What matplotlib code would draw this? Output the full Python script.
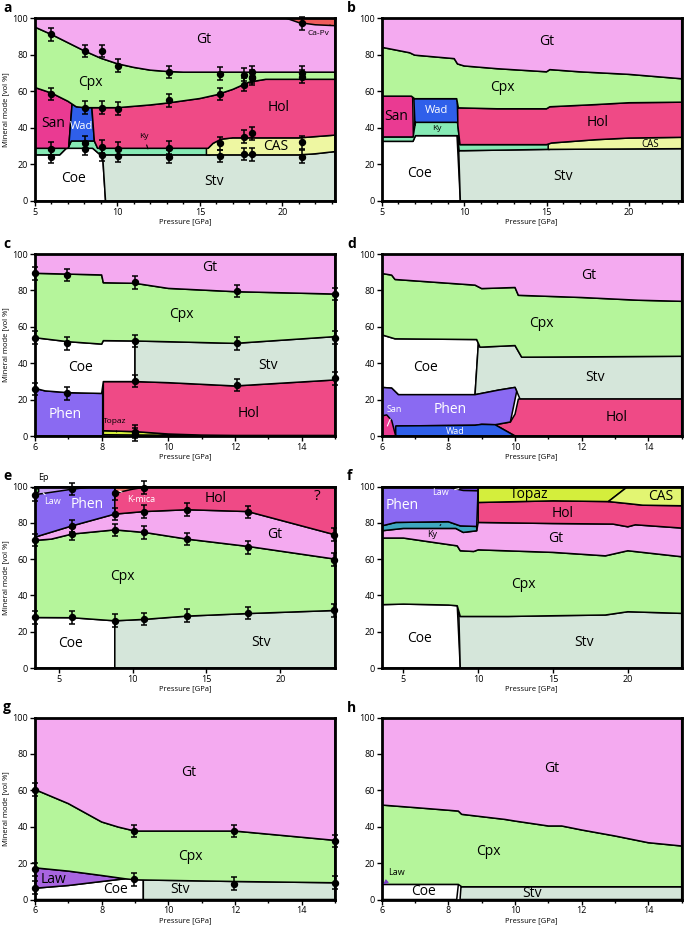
import numpy as np
import matplotlib
matplotlib.use('Agg')
from matplotlib import pyplot as plt
from matplotlib.ticker import MultipleLocator

plt.rcParams['font.family'] = ['Open Sans', 'DejaVu Sans']

# phase colours
GT = '#f4aaf0'
CPX = '#b5f59b'
HOL = '#ef4a86'
SAN = '#ea3a92'
WAD = '#2f5fea'
KY = '#86eab5'
CAS = '#eef7a2'
COE = '#ffffff'
STV = '#d5e6da'
CAPV = '#ef5b5b'
PHEN = '#8a6af2'
TOPAZ = '#d4ee3c'

# ---- panel a : boundaries (pressure GPa, mode vol%)
a_gt_cpx = ([5, 6, 7, 8, 9, 10, 11, 12, 13, 14, 23.2],
            [95, 91, 86.5, 82, 78, 75, 73, 71.5, 70.8, 70.4, 70.4])
a_cpx_hol = ([5, 6, 7, 7.5, 8, 10, 12, 13, 15, 16, 17, 17.5, 18, 19, 23.2],
             [62, 59, 54.5, 51.5, 51, 51, 52.5, 53.5, 56, 58, 61, 63, 65, 66.5, 66.5])
a_ky_top = ([5, 7.0, 7.2, 8.6, 8.8, 15.6], [28.8, 28.8, 32.8, 32.8, 28.8, 28.8])
a_base = ([5, 6.5, 6.9, 8.5, 8.9, 9.2, 21, 22, 23.2],
          [25.2, 25.2, 28.8, 28.8, 25.7, 25.2, 25.2, 25.8, 27])
a_hol_base = ([8.6, 8.8, 15.5, 15.8, 16.3, 17, 21, 23.2],
              [32.8, 28.8, 28.8, 31.5, 33.8, 34.5, 34.5, 36])
a_capv = ([20.2, 21, 22, 23.2], [100, 97.5, 96.3, 95.8])
a_px = [6.0, 8.05, 9.05, 10.05, 13.15, 16.2, 17.65, 18.15, 18.15, 21.2, 21.2, 21.2,
        6.0, 8.05, 9.05, 10.05, 13.15, 16.2, 17.65, 18.15,
        6.0, 6.0, 8.05, 8.05, 9.05, 9.05, 10.05, 10.05, 13.15, 13.15, 16.2, 16.2,
        17.65, 17.65, 18.15, 18.15, 21.2, 21.2]
a_py = [91, 82, 82, 74, 70.5, 69.5, 69, 70.5, 68, 70, 68, 97,
        58.5, 51, 51, 50.5, 55, 58.5, 63.5, 67,
        28.5, 24.3, 31.9, 28.5, 29.7, 25.2, 28.5, 24.8, 29.2, 24.3, 31.6, 24.6,
        35.2, 25.7, 37, 25.5, 32.1, 24.3]

# ---- panel b
b_gt_cpx = ([5, 6.7, 7.0, 9.4, 9.6, 10, 12, 15, 15.2, 17, 20, 23.2],
            [84, 81, 79.7, 77.8, 74.9, 73.8, 72.3, 70.6, 71.8, 70.6, 69.2, 66.8])
b_cpx_low = ([5, 6.8, 7.0, 9.55, 9.65, 12, 15, 15.2, 18, 20, 23.2],
             [57.3, 57.3, 55.9, 55.9, 50.9, 50.4, 50.4, 51.5, 52.7, 53.7, 54])
b_ky_top = ([5, 6.9, 7.05, 9.6, 9.75, 15.0, 15.3, 18, 20, 23.2],
            [35, 35, 43, 43, 30.8, 30.8, 31.7, 33.5, 34.4, 34.8])
b_base = ([5, 6.9, 7.05, 9.6, 9.7, 10, 15, 23.2],
          [32.6, 32.6, 35.7, 35.7, 27.5, 27.5, 28.2, 28.6])

# ---- panel c
c_gt_cpx = ([6, 8.0, 8.05, 9, 10, 12, 15], [89.4, 88.5, 84.2, 83.9, 81.1, 79.3, 78])
c_cpx_low = ([6, 7, 8.0, 8.05, 9, 10, 12, 15], [54, 51.8, 50.5, 52.4, 52.2, 51.8, 50.9, 54.6])
c_mid = ([6, 6.3, 7, 8.0, 8.05, 9, 10, 12, 15], [26.2, 24.8, 23.8, 23.4, 29.9, 29.9, 29.3, 27.5, 30.8])
c_topaz_top = ([8.05, 9, 10, 11, 12, 15], [2.9, 2.4, 1.1, 0.5, 0.3, 0.3])
c_topaz_base = ([8.05, 11], [0.7, 0.3])
c_px = [6, 6, 6, 6.96, 6.96, 6.96, 9, 9, 9, 9, 9, 12.05, 12.05, 12.05, 15, 15, 15]
c_py = [89.4, 54, 25.8, 88.5, 50.9, 23.4, 84.4, 52.2, 30.2, 2.4, 0.9, 79.7, 50.9, 28, 78, 54, 31.7]

# ---- panel d
d_gt_cpx = ([6, 6.3, 6.4, 8.8, 9.0, 10.0, 10.1, 12, 13.7, 15],
            [89.3, 88.4, 86, 82.9, 81, 81.6, 77.3, 76.1, 74.6, 74])
d_cpx_low = ([6, 6.4, 8.85, 8.95, 10.0, 10.2, 15], [55.6, 53.4, 53, 48.8, 49.7, 43.3, 43.8])
d_mid = ([6, 6.3, 6.5, 8.8, 9.5, 10.0, 10.15, 15], [26.7, 26.3, 22.7, 22.7, 25.2, 26.7, 20.3, 20.3])
d_phen_base = ([6, 6.42, 6.45, 8.8, 9.0, 9.4, 9.86], [0, 0, 5.5, 5.9, 6.4, 6.2, 7.7])
d_wad_top = ([6.42, 8.8, 9.0, 9.4, 10.0], [5.5, 5.9, 6.4, 6.2, 0])
d_hol_base = ([9.4, 10.0, 15], [6.2, 0, 0])
d_hol_top = ([9.4, 9.86, 10.0, 10.1, 15], [6.2, 7.7, 12, 20.3, 20.3])
d_san_top = ([6, 6.15, 6.3, 6.42], [11, 11.6, 8.5, 0])

# ---- panel e
e_cpx_low = ([3.4, 5.9, 8.8, 10.8, 13.7, 17.8, 23.7], [27.8, 27.7, 26, 26.8, 28.6, 30, 31.7])
e_gt_low = ([3.4, 4.5, 5.9, 8.8, 10.8, 13.7, 17.8, 23.7], [70.3, 71, 73.8, 76.1, 74.7, 71, 67, 60])
e_gt_top = ([3.4, 5.9, 8.8, 10.8, 13.7, 17.8, 23.7], [72.1, 78.3, 84.8, 86.2, 87.2, 86.2, 73.4])
e_law_low = ([3.4, 5.9, 7.5], [95.5, 98.5, 100])
e_ep_low = ([3.4, 3.65], [96, 97])
e_kmica_low = ([8.8, 10.0, 10.8], [96.3, 98.5, 99.6])
e_px = [3.4, 3.4, 3.4, 5.9, 5.9, 5.9, 5.9, 8.8, 8.8, 8.8, 8.8, 10.8, 10.8, 10.8, 10.8,
        13.7, 13.7, 13.7, 17.8, 17.8, 17.8, 23.6, 23.6, 23.6]
e_py = [95.4, 70.6, 27.9, 98.7, 78.3, 73.8, 27.9, 96.3, 84.8, 76.1, 26, 99.4, 86.2, 74.7, 27,
        87.2, 71, 28.8, 85.9, 66.4, 30.3, 73.4, 59.6, 31.7]

# ---- panel f
f_cpx_low = ([3.55, 5, 8, 8.6, 8.8, 12, 15, 18.5, 20, 23.6],
             [34.9, 35.2, 34.7, 34.3, 28.4, 28.4, 28.8, 29.2, 31, 30.1])
f_gt_low = ([3.55, 5, 7, 8.6, 8.8, 9.7, 10, 15, 18.5, 20, 23.6],
            [71.6, 71.6, 69.2, 67.3, 64.6, 64.2, 65.1, 63.7, 61.8, 64.6, 61.3])
f_gt_top = ([3.55, 5, 8.5, 9.0, 9.9, 10.0, 15, 19, 20, 20.5, 23.6],
            [75.6, 76.9, 76.9, 74.7, 75.6, 80.2, 79.6, 79.3, 77.8, 78.9, 77.1])
f_ky_top = ([3.55, 4.5, 8, 8.8, 9.9], [78.3, 80.2, 80.6, 78.3, 78])
f_hol_top = ([10, 15, 18.7, 20, 21, 23.6], [91.2, 92.1, 91.7, 90.6, 89.7, 89.4])
f_law_low = ([8.2, 9, 10], [99.2, 97.8, 97.6])

# ---- panel g
g_gt_low = ([6, 7, 8, 8.5, 9, 12, 15], [60.4, 52.7, 42.6, 39.8, 37.6, 37.6, 32.5])
g_cpx_low = ([6, 7, 8, 8.7, 9, 12, 15], [17.4, 15.6, 13.2, 11.4, 10.8, 9.9, 9.2])
g_law_low = ([6, 7, 8, 8.7, 9.25], [6.2, 7.7, 9.9, 11.4, 10.7])
g_px = [6, 6, 6, 8.97, 8.97, 11.97, 11.97, 15, 15]
g_py = [60.4, 16.5, 6.4, 37.6, 11, 37.6, 8.6, 32.1, 9.2]

# ---- panel h
h_gt_low = ([6, 7, 8.3, 8.4, 9.7, 10, 11, 11.4, 12, 13, 14, 15],
            [51.9, 50.5, 48.6, 46.8, 44, 43.1, 40.4, 40.4, 38.2, 34.9, 31.2, 29.4])
h_cpx_low = ([6, 8.3, 8.4, 15], [8.3, 8.3, 7, 7])


def seg(curve, a, b):
    x = np.asarray(curve[0], float)
    y = np.asarray(curve[1], float)
    xs = np.concatenate([[a], x[(x > a) & (x < b)], [b]])
    return xs, np.interp(xs, x, y)


def band(ax, lo, hi, x0, x1, color, x0t=None, x1t=None):
    if x0t is None:
        x0t = x0
    if x1t is None:
        x1t = x1
    xl, yl = seg(lo, x0, x1)
    xu, yu = seg(hi, x0t, x1t)
    ax.fill(np.concatenate([xl, xu[::-1]]), np.concatenate([yl, yu[::-1]]),
            facecolor=color, edgecolor='black', linewidth=1.1, joinstyle='round', zorder=1)


def flat(xlim, v):
    return ([xlim[0], xlim[1]], [v, v])


def setup(ax, xlim, major, minor, left):
    ax.set_xlim(xlim)
    ax.set_ylim(0, 100)
    ax.xaxis.set_major_locator(MultipleLocator(major))
    if minor:
        ax.xaxis.set_minor_locator(MultipleLocator(minor))
    ax.yaxis.set_major_locator(MultipleLocator(20))
    ax.tick_params(which='major', direction='out', length=3.5, width=1, labelsize=6.5, pad=1.5)
    ax.tick_params(which='minor', direction='out', length=2.5, width=1)
    for s in ax.spines.values():
        s.set_linewidth(2)
        s.set_zorder(4)
    ax.set_xlabel('Pressure [GPa]', fontsize=5.5, labelpad=1)
    if left:
        ax.set_ylabel('Mineral mode [vol %]', fontsize=5.5, labelpad=2)


def pts(ax, x, y):
    ax.errorbar(x, y, yerr=3.5, fmt='o', color='black', ms=4.3, capsize=2.5,
                elinewidth=1.1, capthick=1.1, zorder=5, clip_on=False)


def lab(ax, x, y, s, size=10, color='black'):
    ax.text(x, y, s, fontsize=size, color=color, ha='center', va='center', zorder=6)


def ptr(ax, s, xy, xyt, color='black', size=6, lc=None):
    ax.annotate(s, xy=xy, xytext=xyt, fontsize=size, color=color, ha='center', va='center',
                arrowprops=dict(arrowstyle='-', color=lc or color, lw=0.8, shrinkA=2, shrinkB=0),
                annotation_clip=False, zorder=6)


fig = plt.figure(figsize=(6.85, 9.27), dpi=100)
W, H = 685.0, 927.0
cols = [35.0, 381.7]
rows = [(18, 201), (254, 436), (486.5, 668), (717.5, 899.5)]
axs = []
for t, b in rows:
    for l in cols:
        axs.append(fig.add_axes([l / W, 1 - b / H, 300 / W, (b - t) / H]))
letters = 'abcdefgh'
for i, ax in enumerate(axs):
    r, c = divmod(i, 2)
    fig.text((3 if c == 0 else 347) / W, 1 - (rows[r][0] - 10) / H, letters[i],
             fontsize=10, fontweight='bold', ha='left', va='center')

# ===== a
ax = axs[0]
XA = (5, 23.2)
fl, cl = flat(XA, 0), flat(XA, 100)
band(ax, fl, a_base, 5, 9.28, COE, 5, 9.1)
band(ax, fl, a_base, 9.28, 23.2, STV, 9.1, 23.2)
band(ax, a_base, a_ky_top, 5, 15.6, KY)
band(ax, a_base, a_hol_base, 15.4, 23.2, CAS)
band(ax, a_ky_top, a_cpx_hol, 5, 7.05, SAN, 5, 7.25)
band(ax, a_ky_top, a_cpx_hol, 7.05, 8.6, WAD, 7.25, 8.45)
band(ax, a_hol_base, a_cpx_hol, 8.6, 23.2, HOL, 8.45, 23.2)
band(ax, a_cpx_hol, a_gt_cpx, 5, 23.2, CPX)
band(ax, a_gt_cpx, cl, 5, 23.2, GT)
band(ax, a_capv, cl, 20.2, 23.2, CAPV)
pts(ax, a_px, a_py)
setup(ax, XA, 5, 1, True)
lab(ax, 15.25, 88, 'Gt')
lab(ax, 8.35, 64.8, 'Cpx')
lab(ax, 19.8, 51.3, 'Hol')
lab(ax, 6.08, 42.2, 'San')
lab(ax, 7.84, 40.7, 'Wad', 8, 'white')
lab(ax, 19.6, 29.7, 'CAS')
lab(ax, 7.33, 12.4, 'Coe')
lab(ax, 15.85, 10.6, 'Stv')
ptr(ax, 'Ky', (11.85, 28.5), (11.6, 35.5))
ptr(ax, 'Ca-Pv', (22.9, 96.2), (22.2, 91.8))

# ===== b
ax = axs[1]
XB = (5, 23.2)
fl, cl = flat(XB, 0), flat(XB, 100)
band(ax, fl, b_base, 5, 9.77, COE, 5, 9.57)
band(ax, fl, b_base, 9.77, 23.2, STV, 9.66, 23.2)
band(ax, b_base, b_ky_top, 5, 15.2, KY)
band(ax, b_base, b_ky_top, 15.1, 23.2, CAS)
band(ax, b_ky_top, b_cpx_low, 5, 6.92, SAN, 5, 6.88)
band(ax, b_ky_top, b_cpx_low, 7.02, 9.62, WAD, 6.95, 9.6)
band(ax, b_ky_top, b_cpx_low, 9.62, 23.2, HOL, 9.6, 23.2)
band(ax, b_cpx_low, b_gt_cpx, 5, 23.2, CPX)
band(ax, b_gt_cpx, cl, 5, 23.2, GT)
setup(ax, XB, 5, 1, False)
lab(ax, 15.0, 87, 'Gt')
lab(ax, 12.3, 61.9, 'Cpx')
lab(ax, 18.1, 43, 'Hol')
lab(ax, 5.9, 46, 'San')
lab(ax, 8.35, 49.5, 'Wad', 8, 'white')
lab(ax, 8.35, 39.4, 'Ky', 6)
lab(ax, 21.3, 30.8, 'CAS', 7)
lab(ax, 7.3, 15.2, 'Coe')
lab(ax, 16.0, 13.4, 'Stv')

# ===== c
ax = axs[2]
XC = (6, 15)
fl, cl = flat(XC, 0), flat(XC, 100)
band(ax, fl, c_mid, 6, 8.03, PHEN)
band(ax, c_topaz_base, c_topaz_top, 8.05, 11, TOPAZ)
band(ax, c_topaz_top, c_mid, 8.05, 15, HOL)
band(ax, c_mid, c_cpx_low, 6, 9, COE)
band(ax, c_mid, c_cpx_low, 9, 15, STV)
band(ax, c_cpx_low, c_gt_cpx, 6, 15, CPX)
band(ax, c_gt_cpx, cl, 6, 15, GT)
pts(ax, c_px, c_py)
setup(ax, XC, 2, 1, True)
lab(ax, 11.24, 92.7, 'Gt')
lab(ax, 10.4, 66.8, 'Cpx')
lab(ax, 7.36, 37.5, 'Coe')
lab(ax, 13.0, 39, 'Stv')
lab(ax, 6.9, 11.9, 'Phen', 10, 'white')
lab(ax, 12.4, 12.5, 'Hol')
ptr(ax, 'Topaz', (8.45, 2.2), (8.4, 7.8))

# ===== d
ax = axs[3]
XD = (6, 15)
fl, cl = flat(XD, 0), flat(XD, 100)
band(ax, d_mid, d_cpx_low, 6, 8.8, COE, 6, 8.9)
band(ax, d_mid, d_cpx_low, 8.8, 15, STV, 8.9, 15)
band(ax, d_hol_base, d_hol_top, 9.4, 15, HOL)
band(ax, d_phen_base, d_mid, 6, 9.86, PHEN, 6, 10.05)
band(ax, fl, d_wad_top, 6.42, 10.0, WAD)
band(ax, fl, d_san_top, 6, 6.42, SAN)
band(ax, d_cpx_low, d_gt_cpx, 6, 15, CPX)
band(ax, d_gt_cpx, cl, 6, 15, GT)
setup(ax, XD, 2, 1, False)
lab(ax, 12.2, 88.4, 'Gt')
lab(ax, 10.8, 61.7, 'Cpx')
lab(ax, 7.3, 37.8, 'Coe')
lab(ax, 12.4, 31.9, 'Stv')
lab(ax, 8.06, 14.4, 'Phen', 10, 'white')
lab(ax, 13.05, 10.1, 'Hol')
lab(ax, 8.2, 2.3, 'Wad', 6.5, 'white')
ptr(ax, 'San', (6.17, 5.5), (6.38, 14.7), 'white', 6.5)

# ===== e
ax = axs[4]
XE = (3.4, 23.7)
fl, cl = flat(XE, 0), flat(XE, 100)
band(ax, fl, e_cpx_low, 3.4, 8.8, COE)
band(ax, fl, e_cpx_low, 8.8, 23.7, STV)
band(ax, e_cpx_low, e_gt_low, 3.4, 23.7, CPX)
band(ax, e_gt_low, e_gt_top, 3.4, 23.7, GT)
band(ax, e_gt_top, cl, 3.4, 8.8, PHEN)
band(ax, e_law_low, cl, 3.4, 7.5, '#c9a2f5')
band(ax, e_ep_low, cl, 3.4, 3.65, '#5cd65c')
band(ax, e_gt_top, cl, 8.8, 23.7, HOL)
band(ax, e_kmica_low, cl, 8.8, 10.8, '#f47e6e')
pts(ax, e_px, e_py)
setup(ax, XE, 5, None, True)
lab(ax, 15.6, 93.6, 'Hol')
lab(ax, 22.5, 94.5, '?', 11)
lab(ax, 6.96, 89.9, 'Phen', 10, 'white')
lab(ax, 19.6, 73.4, 'Gt')
lab(ax, 9.3, 50.5, 'Cpx')
lab(ax, 5.8, 13.4, 'Coe')
lab(ax, 18.7, 13.8, 'Stv')
ptr(ax, 'Law', (3.95, 96.5), (4.6, 91.5), 'white', 6.5)
ptr(ax, 'K-mica', (9.1, 97.5), (10.6, 92.7), 'white', 6.5)
ptr(ax, 'Ep', (3.55, 98.5), (4.0, 105), 'black', 6.5)

# ===== f
ax = axs[5]
XF = (3.55, 23.6)
fl, cl = flat(XF, 0), flat(XF, 100)
band(ax, fl, f_cpx_low, 3.55, 8.8, COE, 3.55, 8.6)
band(ax, fl, f_cpx_low, 8.8, 23.6, STV, 8.7, 23.6)
band(ax, f_cpx_low, f_gt_low, 3.55, 23.6, CPX)
band(ax, f_gt_low, f_gt_top, 3.55, 23.6, GT)
band(ax, f_gt_top, f_ky_top, 3.55, 9.9, '#3ea8c0')
band(ax, f_ky_top, cl, 3.55, 9.9, PHEN, 3.55, 10.0)
band(ax, f_law_low, cl, 8.2, 10.0, '#6a3fd0')
band(ax, f_gt_top, f_hol_top, 10.0, 23.6, HOL)
band(ax, f_hol_top, cl, 10.0, 18.7, TOPAZ, 10.0, 20.0)
band(ax, f_hol_top, cl, 18.7, 23.6, '#e2f572', 20.0, 23.6)
setup(ax, XF, 5, None, False)
lab(ax, 4.9, 89.4, 'Phen', 10, 'white')
lab(ax, 13.4, 95.8, 'Topaz')
lab(ax, 22.2, 94.3, 'CAS')
lab(ax, 15.65, 85.1, 'Hol')
lab(ax, 15.2, 71.6, 'Gt')
lab(ax, 13.0, 45.9, 'Cpx')
lab(ax, 6.07, 16.3, 'Coe')
lab(ax, 17.1, 14.1, 'Stv')
ptr(ax, 'Law', (8.7, 98.8), (7.5, 96.5), 'white', 6.5)
ptr(ax, 'Ky', (7.5, 79.0), (6.9, 73.4), 'black', 6.5)

# ===== g
ax = axs[6]
XG = (6, 15)
fl, cl = flat(XG, 0), flat(XG, 100)
band(ax, fl, g_law_low, 6, 9.25, COE)
band(ax, fl, g_cpx_low, 9.25, 15, STV)
band(ax, g_law_low, g_cpx_low, 6, 8.7, '#a865e0')
band(ax, g_cpx_low, g_gt_low, 6, 15, CPX)
band(ax, g_gt_low, cl, 6, 15, GT)
pts(ax, g_px, g_py)
setup(ax, XG, 2, 1, True)
lab(ax, 10.6, 70, 'Gt')
lab(ax, 10.65, 23.7, 'Cpx')
lab(ax, 6.55, 10.8, 'Law')
lab(ax, 8.4, 5.3, 'Coe')
lab(ax, 10.35, 5.3, 'Stv')

# ===== h
ax = axs[7]
XH = (6, 15)
fl, cl = flat(XH, 0), flat(XH, 100)
band(ax, fl, h_cpx_low, 6, 8.25, COE, 6, 8.3)
band(ax, fl, h_cpx_low, 8.35, 15, STV, 8.38, 15)
band(ax, h_cpx_low, h_gt_low, 6, 15, CPX)
band(ax, h_gt_low, cl, 6, 15, GT)
setup(ax, XH, 2, 1, False)
lab(ax, 11.1, 71.9, 'Gt')
lab(ax, 9.2, 26.6, 'Cpx')
lab(ax, 7.25, 4.6, 'Coe')
lab(ax, 10.5, 3.3, 'Stv')
ax.annotate('Law', xy=(6.05, 8.3), xytext=(6.45, 14.7), fontsize=6.5, ha='center', va='center',
            arrowprops=dict(arrowstyle='-|>', color='#7a3cc8', lw=0.9, mutation_scale=6, shrinkA=2, shrinkB=0),
            zorder=6)

fig.savefig('out.png', dpi=100)
